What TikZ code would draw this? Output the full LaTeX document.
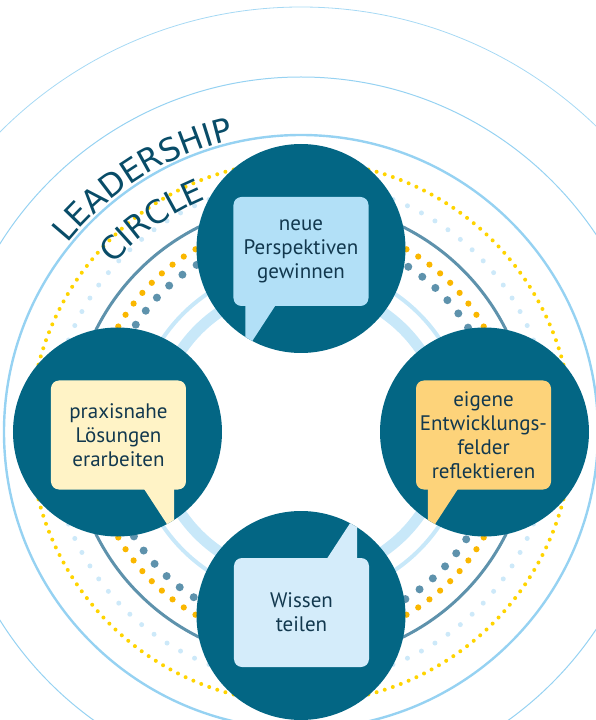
\documentclass[tikz,border=0pt]{standalone}
\usepackage{fontspec}
\setmainfont{PT Sans}
\newfontfamily\headfont{DejaVu Sans}
\usetikzlibrary{
  positioning,
  calc,
  decorations.text
}
\definecolor{petrol}{RGB}{3,102,132}
\definecolor{inktext}{RGB}{18,56,78}
\definecolor{headblue}{RGB}{8,76,104}
\definecolor{skyline}{RGB}{150,210,242}
\definecolor{paleband}{RGB}{200,232,249}
\definecolor{paledot}{RGB}{205,233,249}
\definecolor{steel}{RGB}{94,146,172}
\definecolor{amber}{RGB}{250,183,0}
\definecolor{sun}{RGB}{255,212,0}
\definecolor{boxsky}{RGB}{178,224,247}
\definecolor{boxcream}{RGB}{255,243,198}
\definecolor{boxapricot}{RGB}{253,211,122}
\definecolor{boxice}{RGB}{212,236,250}

\begin{document}
\begin{tikzpicture}[x=1pt, y=1pt,
  disc/.style={circle, fill=petrol, minimum size=209pt, inner sep=0pt},
  bubble/.style={rounded corners=8pt, minimum width=135pt, minimum height=109pt,
    text width=132pt, align=center, inner sep=0pt, text=inktext,
    font=\fontsize{21}{24}\selectfont}
]
  \useasboundingbox (-301,-288) rectangle (295,432);

  % outer rings
  \draw[skyline!85, line width=0.8pt] (0,0) circle[radius=425];
  \draw[skyline, line width=1pt] (0,0) circle[radius=355];
  \draw[skyline, line width=2.4pt] (0,0) circle[radius=297];

  % dotted rings
  \foreach \a in {0,1.8,...,358.3}
    \fill[sun] (\a:271) circle[radius=2];
  \foreach \a in {0,3.6,...,356.5}
    \fill[paledot] (\a:250) circle[radius=2.5];
  \draw[steel, line width=3pt] (0,0) circle[radius=229];
  \foreach \a in {0,3.75,...,356.3}
    \fill[amber] (\a:211) circle[radius=3.1];
  \foreach \a in {2,7,...,357}
    \fill[steel] (\a:197) circle[radius=4];
  \draw[paleband, line width=4pt] (0,0) circle[radius=167];
  \draw[paleband, line width=11pt] (0,0) circle[radius=145];

  % title
  \path[decorate, decoration={text along path, text align=center, text color=headblue,
    text={|\headfont\fontsize{32}{32}\selectfont|LEADERSHIP}}]
    (152:300) arc[start angle=152, end angle=92, radius=300];
  \path[decorate, decoration={text along path, text align=center, text color=headblue,
    text={|\headfont\fontsize{32}{32}\selectfont|CIRCLE}}]
    (152:251.5) arc[start angle=152, end angle=98.4, radius=251.5];

  % discs
  \node[disc] (perspektiven) at (0,183.5) {};
  \node[disc] (loesungen) at (-183.5,0) {};
  \node[disc] (entwicklung) at (183.5,0) {};
  \node[disc] (wissen) at (0,-183.5) {};

  % bubbles
  \node[bubble, fill=boxsky] (perspBox) at ($(perspektiven)+(0,-3)$) {neue\\Perspektiven\\gewinnen};
  \node[bubble, fill=boxcream] (loesBox) at ($(loesungen)+(1,-3)$) {praxisnahe\\Lösungen\\erarbeiten};
  \node[bubble, fill=boxapricot] (entwBox) at ($(entwicklung)+(-1,-3)$) {eigene\\Entwicklungs-\\felder\\reflektieren};
  \node[bubble, fill=boxice] (wissBox) at ($(wissen)+(0.5,3)$) {Wissen\\teilen};

  % tails
  \begin{scope}
    \clip (perspektiven.center) circle[radius=104.5];
    \fill[boxsky] ($(perspBox.south west)+(12,0.5)$) -- ++(0,-46)
      -- ($(perspBox.south west)+(42,0.5)$) -- cycle;
  \end{scope}
  \begin{scope}
    \clip (loesungen.center) circle[radius=104.5];
    \fill[boxcream] ($(loesBox.south east)+(-12,0.5)$) -- ++(0,-46)
      -- ($(loesBox.south east)+(-42,0.5)$) -- cycle;
  \end{scope}
  \begin{scope}
    \clip (entwicklung.center) circle[radius=104.5];
    \fill[boxapricot] ($(entwBox.south west)+(12,0.5)$) -- ++(0,-46)
      -- ($(entwBox.south west)+(42,0.5)$) -- cycle;
  \end{scope}
  \begin{scope}
    \clip (wissen.center) circle[radius=104.5];
    \fill[boxice] ($(wissBox.north east)+(-12,-0.5)$) -- ++(0,46)
      -- ($(wissBox.north east)+(-42,-0.5)$) -- cycle;
  \end{scope}
\end{tikzpicture}
\end{document}
